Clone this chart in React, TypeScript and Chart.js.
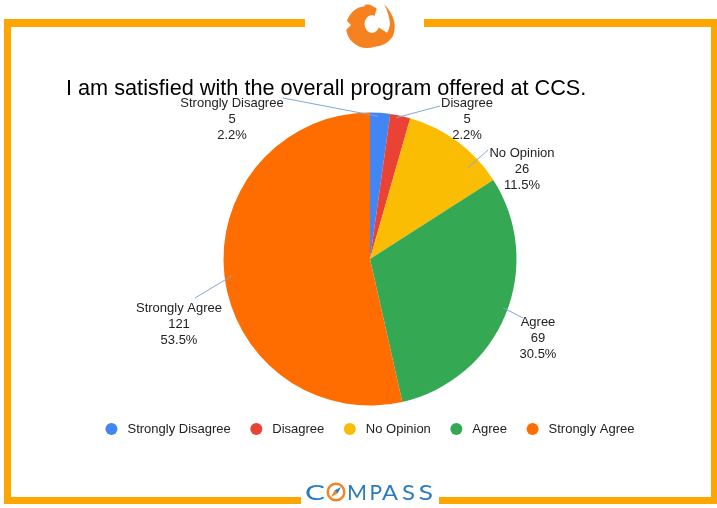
import { useEffect, useRef } from 'react';
import { Chart, registerables } from 'chart.js';

Chart.register(...registerables);

const categories = ['Strongly Disagree', 'Disagree', 'No Opinion', 'Agree', 'Strongly Agree'];
const counts = [5, 5, 26, 69, 121];
const sliceColors = ['#4285F4', '#EA4335', '#FBBC04', '#34A853', '#FF6D01'];
const titleText = 'I am satisfied with the overall program offered at CCS.';

// Label placement relative to pie centre (px); anchor inside slice by angle fraction t and radius fraction rf
const labelLayout = [
  { tx: -138, ty: -156, lx: -87, ly: -161, t: 0.4, rf: 0.976 },
  { tx: 97, ty: -156, lx: 70, ly: -153, t: 0.31, rf: 0.98 },
  { tx: 152, ty: -106, lx: 118, ly: -109, t: 0.75, rf: 0.915 },
  { tx: 168, ty: 63, lx: 153, ly: 59, t: 0.48, rf: 0.967 },
  { tx: -191, ty: 49, lx: -175, ly: 39, t: 0.497, rf: 0.95 },
];

const FONT = '"Liberation Sans", Arial, sans-serif';
const FRAME = '#FFA500';
const LOGO_ORANGE = '#F5821F';
const COMPASS_BLUE = '#2A7BBF';

function drawFrame(ctx: CanvasRenderingContext2D) {
  ctx.save();
  ctx.fillStyle = FRAME;
  ctx.fillRect(4, 19, 301, 8);
  ctx.fillRect(424, 19, 293, 8);
  ctx.fillRect(4, 19, 7, 485);
  ctx.fillRect(711, 19, 6, 485);
  ctx.fillRect(4, 497, 297, 7);
  ctx.fillRect(439, 497, 278, 7);
  ctx.restore();
}

function drawPhoenix(ctx: CanvasRenderingContext2D) {
  ctx.save();
  ctx.fillStyle = LOGO_ORANGE;
  // C-shaped ring body
  ctx.beginPath();
  ctx.ellipse(367, 27, 21, 21, 0, 0, Math.PI * 2);
  ctx.ellipse(372, 24, 7.5, 9, 0, 0, Math.PI * 2);
  ctx.fill('evenodd');
  // open the right side of the ring
  ctx.fillStyle = '#ffffff';
  ctx.beginPath();
  ctx.moveTo(373, 24);
  ctx.arc(373, 24, 30, -1.35, 0.55);
  ctx.closePath();
  ctx.fill();
  // left feather notch
  ctx.beginPath();
  ctx.moveTo(345, 19);
  ctx.lineTo(351, 25);
  ctx.lineTo(345, 31);
  ctx.closePath();
  ctx.fill();
  // right flame crescent joining the bottom
  ctx.fillStyle = LOGO_ORANGE;
  ctx.beginPath();
  ctx.moveTo(384, 4);
  ctx.quadraticCurveTo(399, 20, 393, 36);
  ctx.quadraticCurveTo(386, 47, 372, 47);
  ctx.lineTo(380, 40);
  ctx.quadraticCurveTo(389, 34, 390, 24);
  ctx.quadraticCurveTo(389, 13, 384, 4);
  ctx.closePath();
  ctx.fill();
  // head tuft
  ctx.beginPath();
  ctx.moveTo(364, 5);
  ctx.quadraticCurveTo(371, 3, 377, 10);
  ctx.lineTo(368, 9);
  ctx.closePath();
  ctx.fill();
  ctx.restore();
}

function drawCompass(ctx: CanvasRenderingContext2D) {
  ctx.save();
  ctx.fillStyle = COMPASS_BLUE;
  ctx.font = '22px Lato, "DejaVu Sans", sans-serif';
  ctx.textBaseline = 'alphabetic';
  ctx.textAlign = 'left';
  const boxes: [string, number, number][] = [
    ['C', 305, 325],
    ['M', 347, 367],
    ['P', 369.5, 382],
    ['A', 382, 398],
    ['S', 402, 415],
    ['S', 418.5, 433],
  ];
  for (const [ch, x0, x1] of boxes) {
    const w = ctx.measureText(ch).width;
    ctx.save();
    ctx.translate(x0, 500);
    ctx.scale((x1 - x0) / w, 1);
    ctx.fillText(ch, 0, 0);
    ctx.restore();
  }
  // compass O
  ctx.strokeStyle = LOGO_ORANGE;
  ctx.lineWidth = 2.4;
  ctx.beginPath();
  ctx.arc(336, 492, 8.3, 0, Math.PI * 2);
  ctx.stroke();
  ctx.fillStyle = COMPASS_BLUE;
  ctx.beginPath();
  ctx.moveTo(341, 487);
  ctx.lineTo(337.5, 493.5);
  ctx.lineTo(334.5, 490.5);
  ctx.closePath();
  ctx.fill();
  ctx.fillStyle = LOGO_ORANGE;
  ctx.beginPath();
  ctx.moveTo(331, 497);
  ctx.lineTo(334.5, 490.5);
  ctx.lineTo(337.5, 493.5);
  ctx.closePath();
  ctx.fill();
  ctx.restore();
}

const decorPlugin = {
  id: 'decor',
  beforeDraw(chart: Chart) {
    const ctx = chart.ctx;
    ctx.save();
    ctx.fillStyle = '#ffffff';
    ctx.fillRect(0, 0, chart.width, chart.height);
    ctx.restore();
    drawFrame(ctx);
    drawPhoenix(ctx);
    drawCompass(ctx);
    ctx.save();
    ctx.fillStyle = '#000000';
    ctx.font = `21.7px ${FONT}`;
    ctx.textAlign = 'left';
    ctx.textBaseline = 'alphabetic';
    ctx.fillText(titleText, 66, 95);
    ctx.restore();
  },
  afterDraw(chart: Chart) {
    const ctx = chart.ctx;
    const meta = chart.getDatasetMeta(0);
    const data = chart.data.datasets[0].data as number[];
    const total = data.reduce((a, b) => a + b, 0);
    const labels = chart.data.labels as string[];
    ctx.save();
    meta.data.forEach((el: any, i: number) => {
      const p = el.getProps(['x', 'y', 'startAngle', 'endAngle', 'outerRadius'], true);
      const L = labelLayout[i];
      const a = p.startAngle + L.t * (p.endAngle - p.startAngle);
      const ix = p.x + Math.cos(a) * p.outerRadius * L.rf;
      const iy = p.y + Math.sin(a) * p.outerRadius * L.rf;
      ctx.strokeStyle = '#7FA8D8';
      ctx.lineWidth = 1;
      ctx.beginPath();
      ctx.moveTo(ix, iy);
      ctx.lineTo(p.x + L.lx, p.y + L.ly);
      ctx.stroke();
      ctx.fillStyle = '#222222';
      ctx.font = `13px ${FONT}`;
      ctx.textAlign = 'center';
      ctx.textBaseline = 'middle';
      const pct = ((data[i] / total) * 100).toFixed(1) + '%';
      const lines = [labels[i], String(data[i]), pct];
      lines.forEach((s, k) => ctx.fillText(s, p.x + L.tx, p.y + L.ty + k * 16));
    });

    // legend
    const cx = (chart.chartArea.left + chart.chartArea.right) / 2;
    const ly = 429;
    ctx.font = `13px ${FONT}`;
    ctx.textAlign = 'left';
    ctx.textBaseline = 'middle';
    const widths = labels.map((s) => ctx.measureText(s).width);
    const dotR = 6;
    const dotToText = 16;
    const gap = 25.5;
    let totalW = 0;
    widths.forEach((w, i) => {
      totalW += dotR + dotToText + w + (i < widths.length - 1 ? gap - dotR : 0);
    });
    let x = cx - totalW / 2;
    const colors = chart.data.datasets[0].backgroundColor as string[];
    labels.forEach((s, i) => {
      ctx.fillStyle = colors[i];
      ctx.beginPath();
      ctx.arc(x + dotR, ly, dotR, 0, Math.PI * 2);
      ctx.fill();
      ctx.fillStyle = '#222222';
      ctx.fillText(s, x + dotR + dotToText, ly + 0.5);
      x += dotR + dotToText + widths[i] + gap - dotR;
    });
    ctx.restore();
  },
};

export default function App() {
  const ref = useRef<HTMLCanvasElement | null>(null);
  useEffect(() => {
    if (!ref.current) return;
    const chart = new Chart(ref.current, {
      type: 'pie',
      data: {
        labels: categories,
        datasets: [
          {
            data: counts,
            backgroundColor: sliceColors,
            borderWidth: 0,
            hoverOffset: 0,
          },
        ],
      },
      options: {
        responsive: false,
        animation: false,
        devicePixelRatio: 1,
        layout: { padding: { top: 112.5, bottom: 102.5, left: 223.5, right: 200.5 } },
        plugins: {
          legend: { display: false },
          tooltip: { enabled: false },
          title: { display: false },
        },
      },
      plugins: [decorPlugin],
    });
    return () => chart.destroy();
  }, []);
  return (
    <div style={{ position: 'fixed', left: 0, top: 0, width: 717, height: 508, background: '#fff' }}>
      <canvas ref={ref} width={717} height={508} style={{ display: 'block' }} />
    </div>
  );
}
